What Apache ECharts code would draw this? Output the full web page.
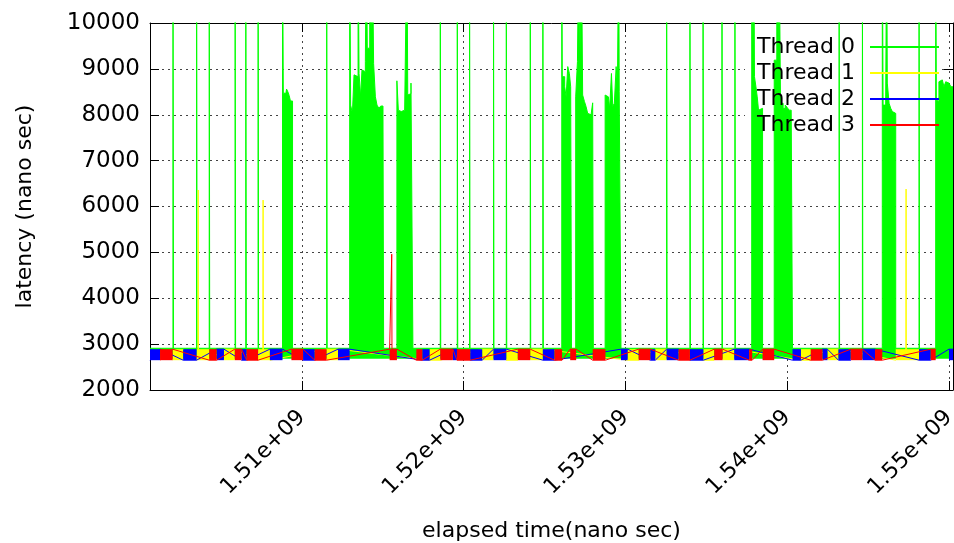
<!DOCTYPE html>
<html><head><meta charset="utf-8">
<script src="https://cdn.jsdelivr.net/npm/echarts@6/dist/echarts.min.js"></script>
<style>html,body{margin:0;padding:0;background:#fff}#c{width:954px;height:543px}</style>
</head><body><div id="c"></div>
<script>
// ---- data (x in ns, y in ns latency) ----
const threadNames = ['Thread 0', 'Thread 1', 'Thread 2', 'Thread 3'];
const threadColors = ['#00ff00', '#ffff00', '#0000ff', '#ff0000'];
const xMin = 1500.62e6, xMax = 1550.25e6;
const yMin = 2000, yMax = 10000, yStep = 1000;

// Thread 0: resting level, burst floor, off-scale spike value
const greenBase = 2910, greenLow = 2680, spikeTop = 12000;
// isolated Thread 0 spikes (x positions), all beyond the top of the plot
const t0Spikes = [1502.04e6, 1503.50e6, 1504.28e6, 1505.88e6, 1506.54e6, 1507.30e6, 1511.54e6,
  1518.56e6, 1519.61e6, 1520.37e6, 1521.85e6, 1522.64e6, 1524.12e6, 1524.90e6, 1532.55e6,
  1533.99e6, 1534.80e6, 1535.97e6, 1536.77e6, 1543.21e6, 1544.65e6, 1548.15e6];
// Thread 0 bursts: envelope of the peaks [x, y]
const t0Burst1 = [[1508.81e6,12000],[1508.86e6,8470],[1508.99e6,8400],[1509.06e6,8560],[1509.14e6,8500],[1509.22e6,8420],[1509.30e6,8300],[1509.43e6,2910]];
const t0Burst2 = [[1512.96e6,12000],[1513.02e6,8210],[1513.13e6,8030],[1513.23e6,8870],[1513.33e6,8830],[1513.48e6,12000],[1513.54e6,8900],[1513.64e6,8390],[1513.72e6,8975],[1513.83e6,8940],[1513.93e6,9160],[1513.99e6,12000],[1514.05e6,9450],[1514.20e6,12000],[1514.26e6,9300],[1514.36e6,12000],[1514.44e6,9120],[1514.55e6,8390],[1514.65e6,8210],[1514.77e6,8140],[1514.88e6,8190],[1515.02e6,8000],[1515.06e6,2910]];
const t0Burst3 = [[1515.88e6,8740],[1515.97e6,8100],[1516.05e6,8070],[1516.15e6,8030],[1516.25e6,8100],[1516.36e6,8070],[1516.46e6,8140],[1516.50e6,12000],[1516.55e6,8430],[1516.67e6,8460],[1516.75e6,8690],[1516.87e6,2910]];
const t0Burst4 = [[1526.07e6,12000],[1526.10e6,8830],[1526.25e6,8610],[1526.34e6,8390],[1526.44e6,9050],[1526.54e6,8900],[1526.62e6,8610],[1526.67e6,2910]];
const t0Burst5 = [[1526.93e6,8390],[1527.04e6,9160],[1527.12e6,12000],[1527.20e6,9300],[1527.28e6,12000],[1527.36e6,8430],[1527.47e6,8290],[1527.57e6,8180],[1527.67e6,8030],[1527.78e6,8000],[1527.88e6,8030],[1527.98e6,8260],[1528.02e6,2910]];
const t0Burst6 = [[1528.75e6,8430],[1528.85e6,8390],[1528.95e6,8380],[1529.03e6,8140],[1529.14e6,8900],[1529.22e6,8180],[1529.32e6,8250],[1529.43e6,9050],[1529.51e6,8650],[1529.59e6,12000],[1529.62e6,8500],[1529.73e6,2910]];
const t0Burst7 = [[1537.81e6,12000],[1537.87e6,8760],[1537.94e6,12000],[1537.98e6,8830],[1538.07e6,8610],[1538.15e6,8390],[1538.23e6,8100],[1538.35e6,8140],[1538.48e6,2910]];
const t0Burst8 = [[1539.20e6,9190],[1539.36e6,12000],[1539.44e6,9500],[1539.50e6,12000],[1539.59e6,8250],[1539.75e6,8140],[1539.88e6,8210],[1540.00e6,8160],[1540.12e6,8100],[1540.25e6,8120],[1540.33e6,2910]];
const t0Burst9 = [[1545.88e6,12000],[1545.93e6,8210],[1546.09e6,8360],[1546.15e6,12000],[1546.19e6,8690],[1546.30e6,8250],[1546.40e6,8140],[1546.50e6,8070],[1546.62e6,8030],[1546.71e6,2910]];
const t0Burst10 = [[1549.18e6,12000],[1549.22e6,8320],[1549.28e6,8290],[1549.38e6,8720],[1549.49e6,8760],[1549.59e6,8790],[1549.69e6,8610],[1549.80e6,8720],[1549.90e6,8690],[1550.00e6,8720],[1550.12e6,8610],[1550.25e6,8610]];

// Threads 1-3: active periods [xStart, xEnd] where latency oscillates in the low band
const bandLow = 2650, bandHigh = 2890;
const t1Blocks = [[1502.02e6,1502.67e6],[1503.50e6,1504.28e6],[1505.19e6,1505.86e6],[1507.30e6,1508.03e6],[1511.53e6,1512.24e6],[1517.90e6,1518.56e6],[1521.15e6,1521.85e6],[1522.64e6,1523.35e6],[1524.12e6,1524.90e6],[1530.14e6,1530.82e6],[1531.85e6,1532.55e6],[1534.82e6,1535.49e6],[1536.01e6,1536.73e6],[1540.85e6,1541.46e6],[1542.49e6,1543.17e6],[1546.71e6,1548.15e6]];
const t2Blocks = [[1500.62e6,1501.24e6],[1502.67e6,1503.50e6],[1504.74e6,1505.19e6],[1506.28e6,1506.59e6],[1508.03e6,1508.81e6],[1510.08e6,1510.80e6],[1512.24e6,1512.96e6],[1517.45e6,1517.90e6],[1519.34e6,1519.59e6],[1520.41e6,1521.15e6],[1521.85e6,1522.64e6],[1524.90e6,1525.62e6],[1529.73e6,1530.14e6],[1531.54e6,1531.85e6],[1532.55e6,1533.29e6],[1533.99e6,1534.82e6],[1536.73e6,1537.65e6],[1540.33e6,1540.85e6],[1542.18e6,1542.49e6],[1543.17e6,1543.93e6],[1544.65e6,1545.43e6],[1548.15e6,1548.87e6],[1550.00e6,1550.25e6]];
const t3Blocks = [[1501.24e6,1502.02e6],[1504.28e6,1504.74e6],[1505.86e6,1506.28e6],[1506.59e6,1507.30e6],[1509.36e6,1510.08e6],[1510.80e6,1511.53e6],[1515.43e6,1515.88e6],[1517.08e6,1517.45e6],[1518.56e6,1519.34e6],[1519.59e6,1520.41e6],[1523.35e6,1524.12e6],[1525.62e6,1526.09e6],[1526.59e6,1526.96e6],[1527.98e6,1528.77e6],[1530.82e6,1531.54e6],[1533.29e6,1533.99e6],[1535.49e6,1536.01e6],[1537.65e6,1537.84e6],[1538.48e6,1539.20e6],[1541.46e6,1542.18e6],[1543.93e6,1544.65e6],[1545.43e6,1545.88e6],[1548.87e6,1549.18e6]];
// single spikes of threads 1-3 [x, y]
const t1Spikes = [[1503.60e6,6360],[1507.61e6,6140],[1547.35e6,6380]];
const t2Spikes = [];
const t3Spikes = [[1515.56e6,4960]];

// ---- build series data from the arrays ----
const spikeW = 0.03e6;
function greenData() {
  const pts = [];
  t0Spikes.forEach(x => { pts.push([x, spikeTop]); pts.push([x + spikeW, greenBase]); });
  [t0Burst1,t0Burst2,t0Burst3,t0Burst4,t0Burst5,t0Burst6,t0Burst7,t0Burst8,t0Burst9,t0Burst10]
    .forEach(b => b.forEach(p => pts.push(p)));
  pts.sort((a, b) => a[0] - b[0]);
  return [[xMin, greenBase]].concat(pts);
}
function threadLine(blocks, spikes) {
  const pts = [];
  const d = 0.016e6;
  blocks.forEach((b, i) => {
    const startLv = i === 0 ? bandLow : (i % 2 ? bandLow : bandHigh);
    const endLv = i % 2 ? bandLow : bandHigh;
    pts.push([b[0], startLv]); pts.push([b[1], endLv]);
  });
  spikes.forEach(s => { pts.push([s[0] - d, bandHigh]); pts.push([s[0], s[1]]); pts.push([s[0] + d, bandHigh]); });
  pts.sort((a, b) => a[0] - b[0]);
  return pts;
}
function blockSeries(blocks, color, z) {
  return {
    type: 'custom', name: 'blocks', silent: true, clip: true, z: z,
    data: blocks.map(b => [b[0], b[1], bandLow, bandHigh]),
    encode: { x: [0, 1], y: [2, 3] },
    renderItem: (params, api) => {
      const a = api.coord([api.value(0), api.value(3)]);
      const b = api.coord([api.value(1), api.value(2)]);
      return { type: 'rect', shape: { x: a[0], y: a[1], width: b[0] - a[0], height: b[1] - a[1] }, style: { fill: color } };
    }
  };
}
function lineSeries(name, data, color, z, extra) {
  return Object.assign({
    type: 'line', name, data, symbol: 'none', silent: true, clip: true, z: z,
    lineStyle: { color, width: 1 }, itemStyle: { color }
  }, extra || {});
}

const F = 'DejaVu Sans';
const gridLine = { show: true, lineStyle: { color: '#444', width: 1, type: [2, 4] } };
const tick = { show: true, inside: true, length: 9, lineStyle: { color: '#000', width: 1 } };
const axLine = { show: true, onZero: false, lineStyle: { color: '#000', width: 1 } };

const option = {
  animation: false,
  textStyle: { fontFamily: F },
  grid: { left: 150, right: 1, top: 23, bottom: 153, containLabel: false, outerBoundsMode: 'none' },
  legend: {
    data: threadNames, orient: 'vertical', right: 10, top: 31, align: 'right',
    icon: 'rect', itemWidth: 69, itemHeight: 2, itemGap: 4,
    textStyle: { fontSize: 22, color: '#000', fontFamily: F, padding: [0, 10, 0, 0] }
  },
  graphic: [{ type: 'rect', shape: { x: 745, y: 24, width: 197, height: 114 }, style: { fill: '#fff' }, z: 1, silent: true }],
  xAxis: [{
    type: 'value', min: xMin, max: xMax, splitNumber: 5, position: 'bottom',
    name: 'elapsed time(nano sec)', nameLocation: 'middle', nameGap: 130,
    nameTextStyle: { fontSize: 22, color: '#000', fontFamily: F },
    axisLine: axLine, axisTick: tick,
    axisLabel: { rotate: 45, margin: 24, fontSize: 22, color: '#000', fontFamily: F,
      showMinLabel: false, showMaxLabel: false,
      formatter: v => (v / 1e9).toFixed(2) + 'e+09' },
    splitLine: gridLine
  }, {
    type: 'value', min: xMin, max: xMax, splitNumber: 5, position: 'top',
    axisLine: axLine, axisTick: tick, axisLabel: { show: false }, splitLine: { show: false }
  }],
  yAxis: [{
    type: 'value', min: yMin, max: yMax, interval: yStep,
    name: 'latency (nano sec)', nameLocation: 'middle', nameGap: 114, nameRotate: 90,
    nameTextStyle: { fontSize: 22, color: '#000', fontFamily: F },
    axisLine: axLine, axisTick: tick,
    axisLabel: { fontSize: 23, color: '#000', margin: 10, fontFamily: F, formatter: v => String(v) },
    splitLine: gridLine
  }, {
    type: 'value', min: yMin, max: yMax, interval: yStep, position: 'right',
    axisLine: axLine, axisTick: tick, axisLabel: { show: false }, splitLine: { show: false }
  }],
  series: [
    lineSeries('Thread 0', greenData(), threadColors[0], 2, { step: 'end', areaStyle: { color: threadColors[0], opacity: 1, origin: greenLow } }),
    blockSeries(t1Blocks, threadColors[1], 3),
    lineSeries('Thread 1', threadLine(t1Blocks, t1Spikes), threadColors[1], 4),
    blockSeries(t2Blocks, threadColors[2], 5),
    lineSeries('Thread 2', threadLine(t2Blocks, t2Spikes), threadColors[2], 6),
    blockSeries(t3Blocks, threadColors[3], 7),
    lineSeries('Thread 3', threadLine(t3Blocks, t3Spikes), threadColors[3], 8)
  ]
};
echarts.init(document.getElementById('c'), null, { renderer: 'canvas' }).setOption(option);
</script></body></html>
